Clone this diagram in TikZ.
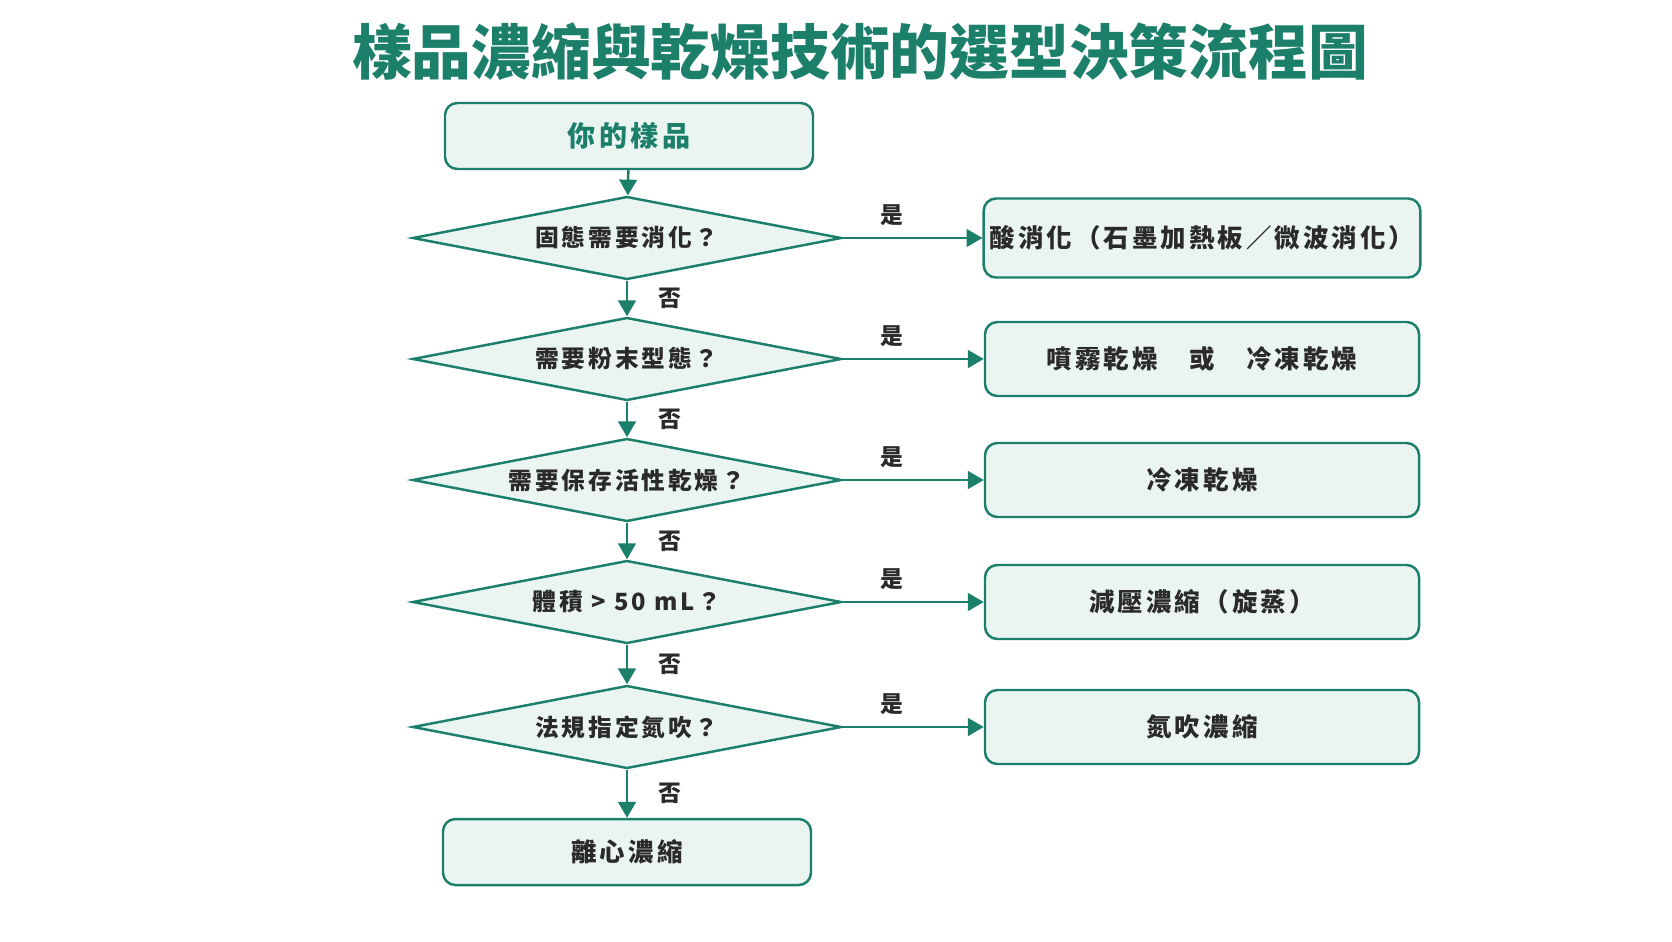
\documentclass[tikz,border=0pt]{standalone}
\usepackage{fontspec}
\usetikzlibrary{shapes.geometric,arrows.meta,positioning}
\newfontfamily\cjk[LetterSpace=12]{Noto Sans CJK TC}
\newfontfamily\cjktitle{Noto Sans CJK TC}
\definecolor{teal}{HTML}{1B7F6A}
\definecolor{pale}{HTML}{EAF5F2}
\definecolor{ink}{HTML}{2A2A2A}
\tikzset{
  boxnode/.style={draw=teal, line width=1.4pt, fill=pale, rounded corners=7pt,
    minimum width=434*0.02cm, minimum height=74*0.02cm, font=\cjk\bfseries\fontsize{14.5}{17}\selectfont, text=ink},
  endbox/.style={boxnode, minimum width=368*0.02cm, minimum height=66*0.02cm},
  ask/.style={draw=teal, line width=1.4pt, fill=pale, diamond, aspect=5.2,
    minimum width=429*0.02cm, minimum height=83*0.02cm, inner sep=0pt,
    font=\cjk\bfseries\fontsize{13.5}{15}\selectfont, text=ink},
  flow/.style={draw=teal, line width=1.4pt, -{Triangle[length=9pt,width=10pt]}},
  lab/.style={font=\cjk\bfseries\fontsize{13}{15}\selectfont, text=ink}
}
\begin{document}
\begin{tikzpicture}[x=0.02cm,y=-0.02cm]
\useasboundingbox (0,0) rectangle (1672,941);
% Title
\node[font=\cjktitle\bfseries\fontsize{34}{40}\selectfont, text=teal] (title) at (860,52) {樣品濃縮與乾燥技術的選型決策流程圖};
% Main column
\node[endbox, text=teal, font=\cjk\bfseries\fontsize{16}{18}\selectfont] (start) at (629,136) {你的樣品};
\node[ask] (q1) at (627,238) {固態需要消化？};
\node[ask] (q2) at (627,359) {需要粉末型態？};
\node[ask] (q3) at (627,480) {需要保存活性乾燥？};
\node[ask] (q4) at (627,602) {體積 > 50 mL？};
\node[ask] (q5) at (627,727) {法規指定氮吹？};
\node[endbox] (stop) at (627,852) {離心濃縮};
% Outcomes
\node[boxnode, minimum height=79*0.02cm] (r1) at (1202,238) {酸消化（石墨加熱板／微波消化）};
\node[boxnode] (r2) at (1202,359) {噴霧乾燥　或　冷凍乾燥};
\node[boxnode] (r3) at (1202,480) {冷凍乾燥};
\node[boxnode] (r4) at (1202,602) {減壓濃縮（旋蒸）};
\node[boxnode] (r5) at (1202,727) {氮吹濃縮};
% Connectors
\draw[flow] (start) -- (q1);
\draw[flow] (q1) -- node[lab, right=14pt] {否} (q2);
\draw[flow] (q2) -- node[lab, right=14pt] {否} (q3);
\draw[flow] (q3) -- node[lab, right=14pt] {否} (q4);
\draw[flow] (q4) -- node[lab, right=14pt] {否} (q5);
\draw[flow] (q5) -- node[lab, right=14pt] {否} (stop);
\foreach \i in {1,...,5}
  \draw[flow] (q\i.east) -- node[lab, above=3pt, pos=0.35] {是} (r\i.west);
\end{tikzpicture}
\end{document}
